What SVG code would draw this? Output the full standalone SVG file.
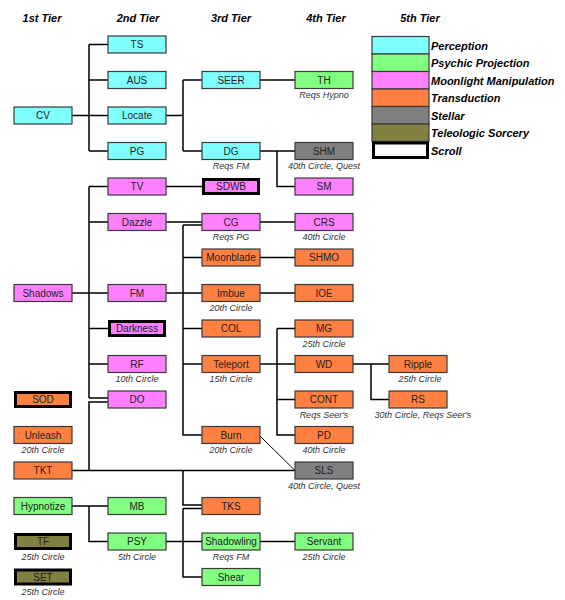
<svg xmlns="http://www.w3.org/2000/svg" width="565" height="600" viewBox="0 0 565 600">
<style>
.b{stroke:#3a3a3a;stroke-width:1.2}
.s{stroke:#000;stroke-width:3}
.pe{fill:#80FFFF}.pp{fill:#80FF80}.mm{fill:#FF80FF}.tr{fill:#FF8040}.st{fill:#808080}.ts{fill:#808040}
.t{font-family:"Liberation Sans",Arial,sans-serif;font-size:10px;fill:#222;text-anchor:middle}
.n{font-family:"Liberation Sans",Arial,sans-serif;font-size:9px;font-style:italic;fill:#333;text-anchor:middle}
.h{font-family:"Liberation Sans",Arial,sans-serif;font-size:11px;font-style:italic;font-weight:bold;fill:#000;text-anchor:middle}
.l{font-family:"Liberation Sans",Arial,sans-serif;font-size:11px;font-style:italic;font-weight:bold;fill:#000}
#connectors path{fill:none;stroke:#000;stroke-width:1.5}
</style>
<rect width="565" height="600" fill="#fff"/>
<g id="headers">
<text class="h" x="42" y="22">1st Tier</text>
<text class="h" x="138" y="22">2nd Tier</text>
<text class="h" x="231" y="22">3rd Tier</text>
<text class="h" x="326" y="22">4th Tier</text>
<text class="h" x="420" y="22">5th Tier</text>
</g>
<g id="legend">
<rect class="b pe" x="372" y="36.5" width="57" height="17.5"/>
<rect class="b pp" x="372" y="54" width="57" height="17.5"/>
<rect class="b mm" x="372" y="71.5" width="57" height="17.5"/>
<rect class="b tr" x="372" y="89" width="57" height="17.5"/>
<rect class="b st" x="372" y="106.5" width="57" height="17.5"/>
<rect class="b ts" x="372" y="124" width="57" height="17.5"/>
<rect class="s" x="373.5" y="143" width="54" height="14.5" fill="#fff"/>
<text class="l" x="431" y="49.5">Perception</text>
<text class="l" x="431" y="67">Psychic Projection</text>
<text class="l" x="431" y="84.5">Moonlight Manipulation</text>
<text class="l" x="431" y="102">Transduction</text>
<text class="l" x="431" y="119.5">Stellar</text>
<text class="l" x="431" y="137">Teleologic Sorcery</text>
<text class="l" x="431" y="154.5">Scroll</text>
</g>
<g id="connectors">
<path d="M72,115.5H108M89,44.5V151M89,44.5H108M89,80H108M89,151H108"/>
<path d="M166,115.5H183M183,80V151M183,80H202M183,151H202"/>
<path d="M260,80H295"/>
<path d="M260,151H295M277,151V186.5H295"/>
<path d="M72,293H108M89,186.5V398M89,186.5H108M89,222H108M89,328.5H108M89,364H108M89,398H108"/>
<path d="M166,186.5H202"/>
<path d="M166,222H202"/>
<path d="M166,293H202M183,225V435H202M183,225H202M183,257.5H202M183,328.5H202M183,364H202"/>
<path d="M260,222H295M260,257.5H295M260,293H295"/>
<path d="M260,364H295M277,328.5V435H295M277,328.5H295M277,399.5H295"/>
<path d="M353,364H389M371,364V399.5H389"/>
<path d="M260,436L295,470.5" style="stroke-width:1"/>
<path d="M72,470.5H295M89,470.5V402H108M183,470.5V505H202"/>
<path d="M72,506H108M89,506V541.5H108"/>
<path d="M166,541.5H202M183,508.5H202M183,508.5V577H202"/>
<path d="M260,541.5H295"/>
</g>
<g id="CV"><rect class="b pe" x="14" y="107" width="58" height="17"/><text class="t" x="43" y="119">CV</text></g>
<g id="Shadows"><rect class="b mm" x="14" y="284.5" width="58" height="17"/><text class="t" x="43" y="296.5">Shadows</text></g>
<g id="SOD"><rect class="s tr" x="15.5" y="392.5" width="55" height="14"/><text class="t" x="43" y="403">SOD</text></g>
<g id="Unleash"><rect class="b tr" x="14" y="426.5" width="58" height="17"/><text class="t" x="43" y="438.5">Unleash</text><text class="n" x="43" y="453">20th Circle</text></g>
<g id="TKT"><rect class="b tr" x="14" y="462" width="58" height="17"/><text class="t" x="43" y="474">TKT</text></g>
<g id="Hypnotize"><rect class="b pp" x="14" y="497.5" width="58" height="17"/><text class="t" x="43" y="509.5">Hypnotize</text></g>
<g id="TF"><rect class="s ts" x="15.5" y="534.5" width="55" height="14"/><text class="t" x="43" y="545">TF</text><text class="n" x="43" y="559.5">25th Circle</text></g>
<g id="SET"><rect class="s ts" x="15.5" y="570" width="55" height="14"/><text class="t" x="43" y="580.5">SET</text><text class="n" x="43" y="595">25th Circle</text></g>

<g id="TS"><rect class="b pe" x="108" y="36" width="58" height="17"/><text class="t" x="137" y="48">TS</text></g>
<g id="AUS"><rect class="b pe" x="108" y="71.5" width="58" height="17"/><text class="t" x="137" y="83.5">AUS</text></g>
<g id="Locate"><rect class="b pe" x="108" y="107" width="58" height="17"/><text class="t" x="137" y="119">Locate</text></g>
<g id="PG"><rect class="b pe" x="108" y="142.5" width="58" height="17"/><text class="t" x="137" y="154.5">PG</text></g>
<g id="TV"><rect class="b mm" x="108" y="178" width="58" height="17"/><text class="t" x="137" y="190">TV</text></g>
<g id="Dazzle"><rect class="b mm" x="108" y="213.5" width="58" height="17"/><text class="t" x="137" y="225.5">Dazzle</text></g>
<g id="FM"><rect class="b mm" x="108" y="284.5" width="58" height="17"/><text class="t" x="137" y="296.5">FM</text></g>
<g id="Darkness"><rect class="s mm" x="109.5" y="321.5" width="55" height="14"/><text class="t" x="137" y="332">Darkness</text></g>
<g id="RF"><rect class="b mm" x="108" y="355.5" width="58" height="17"/><text class="t" x="137" y="367.5">RF</text><text class="n" x="137" y="382">10th Circle</text></g>
<g id="DO"><rect class="b mm" x="108" y="391" width="58" height="17"/><text class="t" x="137" y="403">DO</text></g>
<g id="MB"><rect class="b pp" x="108" y="497.5" width="58" height="17"/><text class="t" x="137" y="509.5">MB</text></g>
<g id="PSY"><rect class="b pp" x="108" y="533" width="58" height="17"/><text class="t" x="137" y="545">PSY</text><text class="n" x="137" y="559.5">5th Circle</text></g>

<g id="SEER"><rect class="b pe" x="202" y="71.5" width="58" height="17"/><text class="t" x="231" y="83.5">SEER</text></g>
<g id="DG"><rect class="b pe" x="202" y="142.5" width="58" height="17"/><text class="t" x="231" y="154.5">DG</text><text class="n" x="231" y="169">Reqs FM</text></g>
<g id="SDWB"><rect class="s mm" x="203.5" y="179.5" width="55" height="14"/><text class="t" x="231" y="190">SDWB</text></g>
<g id="CG"><rect class="b mm" x="202" y="213.5" width="58" height="17"/><text class="t" x="231" y="225.5">CG</text><text class="n" x="231" y="240">Reqs PG</text></g>
<g id="Moonblade"><rect class="b tr" x="202" y="249" width="58" height="17"/><text class="t" x="231" y="261">Moonblade</text></g>
<g id="Imbue"><rect class="b tr" x="202" y="284.5" width="58" height="17"/><text class="t" x="231" y="296.5">Imbue</text><text class="n" x="231" y="311">20th Circle</text></g>
<g id="COL"><rect class="b tr" x="202" y="320" width="58" height="17"/><text class="t" x="231" y="332">COL</text></g>
<g id="Teleport"><rect class="b tr" x="202" y="355.5" width="58" height="17"/><text class="t" x="231" y="367.5">Teleport</text><text class="n" x="231" y="382">15th Circle</text></g>
<g id="Burn"><rect class="b tr" x="202" y="426.5" width="58" height="17"/><text class="t" x="231" y="438.5">Burn</text><text class="n" x="231" y="453">20th Circle</text></g>
<g id="TKS"><rect class="b tr" x="202" y="497.5" width="58" height="17"/><text class="t" x="231" y="509.5">TKS</text></g>
<g id="Shadowling"><rect class="b pp" x="202" y="533" width="58" height="17"/><text class="t" x="231" y="545">Shadowling</text><text class="n" x="231" y="559.5">Reqs FM</text></g>
<g id="Shear"><rect class="b pp" x="202" y="568.5" width="58" height="17"/><text class="t" x="231" y="580.5">Shear</text></g>

<g id="TH"><rect class="b pp" x="295" y="71.5" width="58" height="17"/><text class="t" x="324" y="83.5">TH</text><text class="n" x="324" y="98">Reqs Hypno</text></g>
<g id="SHM"><rect class="b st" x="295" y="142.5" width="58" height="17"/><text class="t" x="324" y="154.5">SHM</text><text class="n" x="324" y="169">40th Circle, Quest</text></g>
<g id="SM"><rect class="b mm" x="295" y="178" width="58" height="17"/><text class="t" x="324" y="190">SM</text></g>
<g id="CRS"><rect class="b mm" x="295" y="213.5" width="58" height="17"/><text class="t" x="324" y="225.5">CRS</text><text class="n" x="324" y="240">40th Circle</text></g>
<g id="SHMO"><rect class="b tr" x="295" y="249" width="58" height="17"/><text class="t" x="324" y="261">SHMO</text></g>
<g id="IOE"><rect class="b tr" x="295" y="284.5" width="58" height="17"/><text class="t" x="324" y="296.5">IOE</text></g>
<g id="MG"><rect class="b tr" x="295" y="320" width="58" height="17"/><text class="t" x="324" y="332">MG</text><text class="n" x="324" y="346.5">25th Circle</text></g>
<g id="WD"><rect class="b tr" x="295" y="355.5" width="58" height="17"/><text class="t" x="324" y="367.5">WD</text></g>
<g id="CONT"><rect class="b tr" x="295" y="391" width="58" height="17"/><text class="t" x="324" y="403">CONT</text><text class="n" x="324" y="417.5">Reqs Seer's</text></g>
<g id="PD"><rect class="b tr" x="295" y="426.5" width="58" height="17"/><text class="t" x="324" y="438.5">PD</text><text class="n" x="324" y="453">40th Circle</text></g>
<g id="SLS"><rect class="b st" x="295" y="462" width="58" height="17"/><text class="t" x="324" y="474">SLS</text><text class="n" x="324" y="488.5">40th Circle, Quest</text></g>
<g id="Servant"><rect class="b pp" x="295" y="533" width="58" height="17"/><text class="t" x="324" y="545">Servant</text><text class="n" x="324" y="559.5">25th Circle</text></g>

<g id="Ripple"><rect class="b tr" x="389" y="355.5" width="58" height="17"/><text class="t" x="418" y="367.5">Ripple</text><text class="n" x="420" y="382">25th Circle</text></g>
<g id="RS"><rect class="b tr" x="389" y="391" width="58" height="17"/><text class="t" x="418" y="403">RS</text><text class="n" x="423" y="417.5">30th Circle, Reqs Seer's</text></g>
</svg>
